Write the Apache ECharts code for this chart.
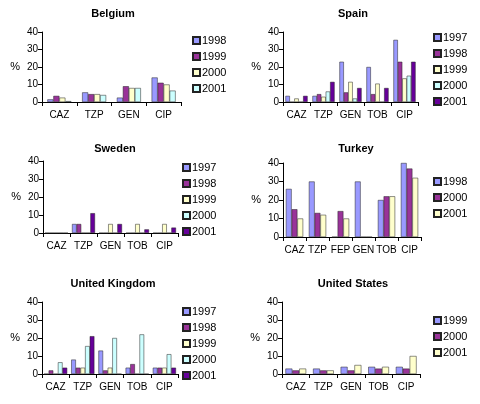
<!DOCTYPE html>
<html><head><meta charset="utf-8">
<script src="https://cdn.jsdelivr.net/npm/echarts@6/dist/echarts.min.js"></script>
<style>html,body{margin:0;padding:0;background:#fff}#c{width:480px;height:404px}</style>
</head><body><div id="c"></div>
<script>
// ---- data ----
const yTicks = [0, 10, 20, 30, 40];

const belgiumCategories = ['CAZ', 'TZP', 'GEN', 'CIP'];
const belgiumYears = ['1998', '1999', '2000', '2001'];
const belgium1998 = [1.5, 5.5, 2.5, 14];
const belgium1999 = [3.5, 4.5, 9, 11];
const belgium2000 = [2.5, 4.5, 8, 10];
const belgium2001 = [0.5, 4, 8, 6.5];

const spainCategories = ['CAZ', 'TZP', 'GEN', 'TOB', 'CIP'];
const spainYears = ['1997', '1998', '1999', '2000', '2001'];
const spain1997 = [3.5, 3.5, 23, 20, 35.5];
const spain1998 = [0, 4.5, 5.5, 4.5, 23];
const spain1999 = [2, 3, 11.5, 10.5, 13.5];
const spain2000 = [0, 6, 2, 0, 15];
const spain2001 = [3.5, 11.5, 8, 8, 23];

const swedenCategories = ['CAZ', 'TZP', 'GEN', 'TOB', 'CIP'];
const swedenYears = ['1997', '1998', '1999', '2000', '2001'];
const sweden1997 = [0, 5, 0, 0, 0];
const sweden1998 = [0, 5, 0, 0, 0];
const sweden1999 = [0, 0, 5, 5, 5];
const sweden2000 = [0, 0, 0, 0, 0];
const sweden2001 = [0, 11, 5, 2, 3];

const turkeyCategories = ['CAZ', 'TZP', 'FEP', 'GEN', 'TOB', 'CIP'];
const turkeyYears = ['1998', '2000', '2001'];
const turkey1998 = [26, 30, 0, 30, 20, 40];
const turkey2000 = [15, 13, 14, 0, 22, 37];
const turkey2001 = [10, 12, 10, 0, 22, 32];

const ukCategories = ['CAZ', 'TZP', 'GEN', 'TOB', 'CIP'];
const ukYears = ['1997', '1998', '1999', '2000', '2001'];
const uk1997 = [0, 8, 13, 3.5, 3.5];
const uk1998 = [2, 3.5, 2, 5.5, 3.5];
const uk1999 = [0, 3.5, 3.5, 0, 3.5];
const uk2000 = [6.5, 15.5, 20, 22, 11];
const uk2001 = [3.5, 21, 0, 0, 3.5];

const usCategories = ['CAZ', 'TZP', 'GEN', 'TOB', 'CIP'];
const usYears = ['1999', '2000', '2001'];
const us1999 = [3, 3, 4, 4, 4];
const us2000 = [2, 2, 2, 3, 3];
const us2001 = [3, 2, 5, 4, 10];

// ---- panels ----
const palette = ['#9999ff', '#993399', '#ffffcc', '#ccffff', '#660099'];
const panels = [
  { title: 'Belgium', cats: belgiumCategories, years: belgiumYears,
    values: [belgium1998, belgium1999, belgium2000, belgium2001],
    grid: { left: 42, top: 32, width: 139, height: 70 }, tx: 113, ty: 8, lx: 192, ly: 35, gap: 0.31 },
  { title: 'Spain', cats: spainCategories, years: spainYears,
    values: [spain1997, spain1998, spain1999, spain2000, spain2001],
    grid: { left: 283, top: 32, width: 135, height: 70 }, tx: 353, ty: 8, lx: 433, ly: 32, gap: 0.18 },
  { title: 'Sweden', cats: swedenCategories, years: swedenYears,
    values: [sweden1997, sweden1998, sweden1999, sweden2000, sweden2001],
    grid: { left: 43, top: 161, width: 135, height: 72 }, tx: 115, ty: 143, lx: 182, ly: 162, gap: 0.15 },
  { title: 'Turkey', cats: turkeyCategories, years: turkeyYears,
    values: [turkey1998, turkey2000, turkey2001],
    grid: { left: 283, top: 163, width: 138, height: 74 }, tx: 356, ty: 143, lx: 433, ly: 176, gap: 0.25 },
  { title: 'United Kingdom', cats: ukCategories, years: ukYears,
    values: [uk1997, uk1998, uk1999, uk2000, uk2001],
    grid: { left: 42, top: 302, width: 136, height: 72 }, tx: 113, ty: 278, lx: 182, ly: 306, gap: 0.15 },
  { title: 'United States', cats: usCategories, years: usYears,
    values: [us1999, us2000, us2001],
    grid: { left: 282, top: 302, width: 138, height: 72 }, tx: 353, ty: 278, lx: 433, ly: 315, gap: 0.25 }
];

const option = {
  animation: false,
  backgroundColor: '#fff',
  textStyle: { fontFamily: 'Liberation Sans, Arial, sans-serif' },
  title: [], grid: [], xAxis: [], yAxis: [], legend: [], series: []
};

panels.forEach((p, i) => {
  option.title.push({
    text: p.title, left: p.tx, top: p.ty, textAlign: 'center', padding: 0,
    textStyle: { fontSize: 11, fontWeight: 'bold', color: '#000', fontFamily: 'Liberation Sans, Arial, sans-serif' }
  });
  option.grid.push(Object.assign({ containLabel: false }, p.grid));
  option.xAxis.push({
    gridIndex: i, type: 'category', data: p.cats,
    axisLine: { lineStyle: { color: '#000', width: 1 } },
    axisTick: { show: true, length: 4, lineStyle: { color: '#000' } },
    axisLabel: { interval: 0, fontSize: 10, color: '#000', margin: 8 },
    splitLine: { show: false }
  });
  option.yAxis.push({
    gridIndex: i, type: 'value', min: yTicks[0], max: yTicks[yTicks.length - 1], interval: yTicks[1] - yTicks[0],
    axisLine: { show: true, lineStyle: { color: '#000', width: 1 } },
    axisTick: { show: true, length: 4, lineStyle: { color: '#000' } },
    axisLabel: { fontSize: 10, color: '#000', margin: 4 },
    splitLine: { show: false },
    name: '%', nameLocation: 'middle', nameRotate: 0, nameGap: 22,
    nameTextStyle: { fontSize: 11, color: '#000' }
  });
  const names = [];
  p.years.forEach((y, k) => {
    const nm = p.title + ' ' + y;
    names.push(nm);
    option.series.push({
      type: 'bar', name: nm, xAxisIndex: i, yAxisIndex: i, data: p.values[k],
      barGap: '0%', barCategoryGap: Math.round(p.gap * 100) + '%',
      itemStyle: { color: palette[k], borderColor: '#222', borderWidth: 0.5 }
    });
  });
  option.legend.push({
    orient: 'vertical', left: p.lx, top: p.ly, padding: 0,
    itemWidth: 7, itemHeight: 7, itemGap: 5, icon: 'rect', selectedMode: false,
    data: names,
    formatter: n => n.split(' ').pop(),
    textStyle: { fontSize: 11, color: '#000', padding: [0, 0, 0, -3] }
  });
});

const chart = echarts.init(document.getElementById('c'), null, { renderer: 'canvas' });
chart.setOption(option);
</script>
</body></html>
